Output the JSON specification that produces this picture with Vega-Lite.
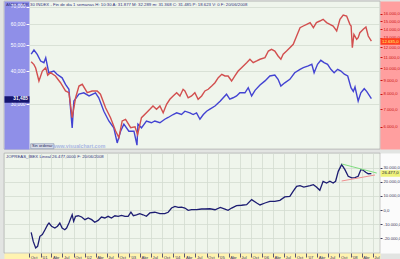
{
  "$schema": "https://vega.github.io/schema/vega-lite/v6.json",
  "padding": 0,
  "background": "#e2e4e2",
  "spacing": 2,
  "config": {
    "locale": {"number": {"decimal": ",", "thousands": ".", "grouping": [3], "currency": ["", " €"], "minus": "-"}},
    "view": {"fill": "#eff5ec", "stroke": "#9c9c9c", "strokeWidth": 0.6},
    "axis": {"labelFont": "Liberation Sans", "labelFontSize": 5, "domainCap": "butt"},
    "title": {"font": "Liberation Sans", "fontSize": 4.3, "fontWeight": "normal", "color": "#30307a"},
    "text": {"font": "Liberation Sans"}
  },
  "datasets": {
    "blue": [
      {"d": "2000-10-16", "v": 46.3}, {"d": "2000-11-08", "v": 48.0}, {"d": "2000-12-05", "v": 46.2}, {"d": "2001-01-02", "v": 43.6},
      {"d": "2001-01-29", "v": 43.0}, {"d": "2001-02-13", "v": 44.9}, {"d": "2001-03-10", "v": 39.4}, {"d": "2001-04-21", "v": 40.0},
      {"d": "2001-05-17", "v": 38.9}, {"d": "2001-06-28", "v": 37.7}, {"d": "2001-07-26", "v": 35.6}, {"d": "2001-08-23", "v": 34.1},
      {"d": "2001-09-19", "v": 24.4}, {"d": "2001-10-03", "v": 30.8}, {"d": "2001-11-14", "v": 32.7}, {"d": "2001-12-24", "v": 33.1},
      {"d": "2002-02-05", "v": 32.2}, {"d": "2002-03-30", "v": 33.1}, {"d": "2002-04-26", "v": 31.7}, {"d": "2002-06-07", "v": 28.2},
      {"d": "2002-07-18", "v": 25.9}, {"d": "2002-08-28", "v": 24.4}, {"d": "2002-09-25", "v": 21.4}, {"d": "2002-10-23", "v": 23.7},
      {"d": "2002-11-19", "v": 25.2}, {"d": "2002-12-30", "v": 23.7}, {"d": "2003-02-10", "v": 23.7}, {"d": "2003-03-07", "v": 21.0},
      {"d": "2003-03-15", "v": 25.2}, {"d": "2003-04-13", "v": 24.4}, {"d": "2003-05-24", "v": 25.9}, {"d": "2003-07-04", "v": 25.5},
      {"d": "2003-08-01", "v": 25.9}, {"d": "2003-09-12", "v": 25.5}, {"d": "2003-10-22", "v": 26.3}, {"d": "2003-11-19", "v": 26.7},
      {"d": "2003-12-30", "v": 27.4}, {"d": "2004-01-28", "v": 27.8}, {"d": "2004-03-08", "v": 27.4}, {"d": "2004-04-05", "v": 28.2},
      {"d": "2004-05-16", "v": 27.8}, {"d": "2004-06-12", "v": 27.4}, {"d": "2004-07-10", "v": 27.8}, {"d": "2004-08-07", "v": 26.3},
      {"d": "2004-09-04", "v": 27.4}, {"d": "2004-10-01", "v": 28.2}, {"d": "2004-10-28", "v": 28.7}, {"d": "2004-12-09", "v": 29.5},
      {"d": "2005-01-22", "v": 30.8}, {"d": "2005-02-15", "v": 31.7}, {"d": "2005-03-14", "v": 32.7}, {"d": "2005-04-10", "v": 31.3},
      {"d": "2005-05-07", "v": 31.7}, {"d": "2005-06-05", "v": 32.2}, {"d": "2005-07-02", "v": 33.1}, {"d": "2005-08-13", "v": 33.1},
      {"d": "2005-09-09", "v": 34.6}, {"d": "2005-10-07", "v": 32.2}, {"d": "2005-11-04", "v": 33.8}, {"d": "2005-12-15", "v": 35.4},
      {"d": "2006-01-25", "v": 36.7}, {"d": "2006-03-06", "v": 38.3}, {"d": "2006-04-16", "v": 38.6}, {"d": "2006-05-13", "v": 37.2},
      {"d": "2006-06-05", "v": 35.1}, {"d": "2006-07-07", "v": 36.1}, {"d": "2006-08-18", "v": 37.2}, {"d": "2006-09-27", "v": 39.4},
      {"d": "2006-11-10", "v": 40.6}, {"d": "2006-12-07", "v": 41.2}, {"d": "2007-01-17", "v": 41.8}, {"d": "2007-02-15", "v": 42.4},
      {"d": "2007-03-06", "v": 39.4}, {"d": "2007-04-03", "v": 42.4}, {"d": "2007-04-30", "v": 43.9}, {"d": "2007-05-27", "v": 43.0},
      {"d": "2007-06-25", "v": 42.4}, {"d": "2007-07-22", "v": 40.6}, {"d": "2007-08-18", "v": 39.4}, {"d": "2007-09-16", "v": 40.6},
      {"d": "2007-10-13", "v": 40.0}, {"d": "2007-11-10", "v": 38.9}, {"d": "2007-12-08", "v": 38.3}, {"d": "2008-01-04", "v": 34.6},
      {"d": "2008-01-23", "v": 33.5}, {"d": "2008-02-06", "v": 34.8}, {"d": "2008-03-03", "v": 30.8}, {"d": "2008-03-25", "v": 33.1},
      {"d": "2008-04-22", "v": 34.3}, {"d": "2008-05-12", "v": 33.5}, {"d": "2008-06-20", "v": 31.485}
    ],
    "red": [
      {"d": "2000-10-16", "v": 10550}, {"d": "2000-11-08", "v": 10300}, {"d": "2000-11-22", "v": 10000}, {"d": "2000-12-19", "v": 8930},
      {"d": "2001-01-16", "v": 9740}, {"d": "2001-02-13", "v": 10030}, {"d": "2001-03-01", "v": 9400}, {"d": "2001-03-24", "v": 9600},
      {"d": "2001-05-04", "v": 9330}, {"d": "2001-06-15", "v": 8800}, {"d": "2001-07-26", "v": 8190}, {"d": "2001-08-23", "v": 8070},
      {"d": "2001-09-19", "v": 6490}, {"d": "2001-10-17", "v": 7720}, {"d": "2001-11-14", "v": 8550}, {"d": "2001-12-11", "v": 8680},
      {"d": "2002-01-21", "v": 8070}, {"d": "2002-03-02", "v": 8190}, {"d": "2002-04-13", "v": 8190}, {"d": "2002-05-10", "v": 7960},
      {"d": "2002-06-21", "v": 7080}, {"d": "2002-08-01", "v": 6490}, {"d": "2002-09-12", "v": 5780}, {"d": "2002-10-09", "v": 5460},
      {"d": "2002-11-05", "v": 6310}, {"d": "2002-12-03", "v": 6400}, {"d": "2003-01-14", "v": 5950}, {"d": "2003-02-19", "v": 6000},
      {"d": "2003-03-12", "v": 5600}, {"d": "2003-04-13", "v": 6490}, {"d": "2003-05-24", "v": 6780}, {"d": "2003-06-21", "v": 6980},
      {"d": "2003-07-17", "v": 7190}, {"d": "2003-08-15", "v": 6980}, {"d": "2003-09-12", "v": 7190}, {"d": "2003-10-09", "v": 6780},
      {"d": "2003-11-06", "v": 7290}, {"d": "2003-12-03", "v": 7620}, {"d": "2003-12-30", "v": 7840}, {"d": "2004-01-28", "v": 8070},
      {"d": "2004-02-24", "v": 7840}, {"d": "2004-03-21", "v": 8310}, {"d": "2004-04-05", "v": 8190}, {"d": "2004-05-02", "v": 7720},
      {"d": "2004-05-30", "v": 7840}, {"d": "2004-06-26", "v": 8070}, {"d": "2004-07-23", "v": 7620}, {"d": "2004-08-21", "v": 7840},
      {"d": "2004-09-17", "v": 8190}, {"d": "2004-10-14", "v": 8310}, {"d": "2004-11-12", "v": 8550}, {"d": "2004-12-09", "v": 8800},
      {"d": "2005-01-05", "v": 9190}, {"d": "2005-02-03", "v": 9470}, {"d": "2005-03-01", "v": 9330}, {"d": "2005-03-27", "v": 9330},
      {"d": "2005-04-25", "v": 8930}, {"d": "2005-05-22", "v": 9330}, {"d": "2005-06-18", "v": 9740}, {"d": "2005-07-16", "v": 10030},
      {"d": "2005-08-27", "v": 10470}, {"d": "2005-09-23", "v": 10790}, {"d": "2005-10-20", "v": 10470}, {"d": "2005-11-18", "v": 10630},
      {"d": "2005-12-15", "v": 10790}, {"d": "2006-01-25", "v": 10940}, {"d": "2006-02-22", "v": 11590}, {"d": "2006-03-20", "v": 11770},
      {"d": "2006-04-16", "v": 11590}, {"d": "2006-05-13", "v": 11100}, {"d": "2006-06-05", "v": 10790}, {"d": "2006-06-24", "v": 11270},
      {"d": "2006-07-22", "v": 11590}, {"d": "2006-08-18", "v": 11930}, {"d": "2006-09-15", "v": 12290}, {"d": "2006-10-13", "v": 13210},
      {"d": "2006-11-10", "v": 14200}, {"d": "2006-12-07", "v": 14410}, {"d": "2007-01-04", "v": 14620}, {"d": "2007-02-01", "v": 14840},
      {"d": "2007-02-28", "v": 14200}, {"d": "2007-03-25", "v": 14840}, {"d": "2007-04-22", "v": 15050}, {"d": "2007-05-19", "v": 15270},
      {"d": "2007-06-17", "v": 14840}, {"d": "2007-07-14", "v": 14620}, {"d": "2007-08-10", "v": 14410}, {"d": "2007-09-08", "v": 13800},
      {"d": "2007-10-05", "v": 15270}, {"d": "2007-11-01", "v": 15850}, {"d": "2007-11-29", "v": 15720}, {"d": "2007-12-26", "v": 14620},
      {"d": "2008-01-05", "v": 14400}, {"d": "2008-01-15", "v": 11930}, {"d": "2008-01-28", "v": 13400}, {"d": "2008-02-20", "v": 12840},
      {"d": "2008-03-03", "v": 13010}, {"d": "2008-03-17", "v": 13590}, {"d": "2008-04-14", "v": 14000}, {"d": "2008-05-06", "v": 14280},
      {"d": "2008-05-25", "v": 13210}, {"d": "2008-06-20", "v": 12635}
    ],
    "spread": [
      {"d": "2000-10-16", "v": -15900}, {"d": "2000-11-02", "v": -22400}, {"d": "2000-11-22", "v": -27100}, {"d": "2000-12-08", "v": -25900},
      {"d": "2000-12-27", "v": -18800}, {"d": "2001-01-16", "v": -17600}, {"d": "2001-02-07", "v": -14100}, {"d": "2001-03-01", "v": -10500},
      {"d": "2001-03-12", "v": -9300}, {"d": "2001-04-02", "v": -11600}, {"d": "2001-04-29", "v": -12900}, {"d": "2001-05-21", "v": -11600},
      {"d": "2001-06-09", "v": -9300}, {"d": "2001-06-28", "v": -12900}, {"d": "2001-07-20", "v": -14100}, {"d": "2001-08-04", "v": -12900},
      {"d": "2001-08-23", "v": -9300}, {"d": "2001-09-19", "v": -3400}, {"d": "2001-10-01", "v": -8100}, {"d": "2001-10-17", "v": -4500},
      {"d": "2001-11-08", "v": -4100}, {"d": "2001-12-06", "v": -5000}, {"d": "2002-01-02", "v": -6900}, {"d": "2002-01-29", "v": -5700},
      {"d": "2002-02-27", "v": -6900}, {"d": "2002-03-24", "v": -8800}, {"d": "2002-04-21", "v": -7400}, {"d": "2002-05-18", "v": -5000},
      {"d": "2002-06-15", "v": -5700}, {"d": "2002-07-12", "v": -4500}, {"d": "2002-08-09", "v": -5700}, {"d": "2002-09-06", "v": -4100},
      {"d": "2002-10-03", "v": -4500}, {"d": "2002-10-31", "v": -3800}, {"d": "2002-11-28", "v": -4500}, {"d": "2002-12-24", "v": -4500},
      {"d": "2003-01-16", "v": -1600}, {"d": "2003-02-05", "v": -4100}, {"d": "2003-03-03", "v": -3400}, {"d": "2003-03-30", "v": -2600},
      {"d": "2003-04-26", "v": -3400}, {"d": "2003-05-24", "v": -4500}, {"d": "2003-06-21", "v": -2100}, {"d": "2003-08-01", "v": -1600},
      {"d": "2003-09-12", "v": -2600}, {"d": "2003-10-22", "v": -2600}, {"d": "2003-11-19", "v": -1600}, {"d": "2003-12-17", "v": 1400},
      {"d": "2004-01-14", "v": 2600}, {"d": "2004-02-10", "v": 1900}, {"d": "2004-03-08", "v": 2100}, {"d": "2004-04-05", "v": 1400},
      {"d": "2004-05-02", "v": -200}, {"d": "2004-05-30", "v": 200}, {"d": "2004-07-10", "v": 200}, {"d": "2004-08-21", "v": 700},
      {"d": "2004-09-17", "v": 700}, {"d": "2004-10-28", "v": 900}, {"d": "2004-12-09", "v": 200}, {"d": "2005-01-22", "v": 1900},
      {"d": "2005-03-01", "v": 700}, {"d": "2005-03-27", "v": -200}, {"d": "2005-04-25", "v": 1400}, {"d": "2005-06-05", "v": 3100},
      {"d": "2005-07-16", "v": 3400}, {"d": "2005-08-27", "v": 3800}, {"d": "2005-10-07", "v": 7400}, {"d": "2005-11-18", "v": 5000},
      {"d": "2005-12-15", "v": 3600}, {"d": "2006-01-25", "v": 5000}, {"d": "2006-03-06", "v": 6200}, {"d": "2006-04-16", "v": 6200},
      {"d": "2006-05-28", "v": 6900}, {"d": "2006-07-07", "v": 9300}, {"d": "2006-08-18", "v": 9800}, {"d": "2006-09-15", "v": 13400},
      {"d": "2006-10-13", "v": 16900}, {"d": "2006-11-10", "v": 17400}, {"d": "2006-12-11", "v": 16400}, {"d": "2007-02-01", "v": 17400},
      {"d": "2007-02-28", "v": 18100}, {"d": "2007-03-25", "v": 16400}, {"d": "2007-04-22", "v": 14100}, {"d": "2007-05-19", "v": 20500},
      {"d": "2007-06-17", "v": 19300}, {"d": "2007-07-14", "v": 20500}, {"d": "2007-08-10", "v": 19300}, {"d": "2007-08-30", "v": 20500},
      {"d": "2007-09-21", "v": 27600}, {"d": "2007-10-19", "v": 32400}, {"d": "2007-11-15", "v": 28800}, {"d": "2007-12-12", "v": 24100},
      {"d": "2008-01-10", "v": 22900}, {"d": "2008-02-06", "v": 23100}, {"d": "2008-03-03", "v": 24100}, {"d": "2008-03-25", "v": 28800},
      {"d": "2008-04-14", "v": 28400}, {"d": "2008-05-04", "v": 26900}, {"d": "2008-05-25", "v": 25900}, {"d": "2008-06-20", "v": 26000}
    ],
    "trend": [
      {"g": "res", "d": "2007-10-19", "v": 32900}, {"g": "res", "d": "2008-08-03", "v": 26400},
      {"g": "sop", "d": "2007-10-19", "v": 20700}, {"g": "sop", "d": "2008-07-20", "v": 25000}
    ]
  },
  "vconcat": [
    {
      "width": 376,
      "height": 148,
      "title": {"text": "AMEX - AIR 30 INDEX - Fin de dia 1 semanas H: 10:30 A: 31.877 M: 32.289 m: 31.368 C: 31.485 P: 18.623 V: 0 F: 20/06/2008", "frame": "group", "anchor": "start", "offset": -6, "dx": 2},
      "resolve": {"scale": {"y": "independent"}, "axis": {"y": "independent"}},
      "layer": [
        {
          "data": {"name": "blue"},
          "mark": {"type": "line", "color": "#4343d2", "strokeWidth": 1.4},
          "encoding": {
            "x": {"field": "d", "type": "temporal",
              "scale": {"domain": [{"year": 2000, "month": 3, "date": 6}, {"year": 2008, "month": 8, "date": 30}], "nice": false},
              "axis": {"grid": true, "labels": false, "ticks": false, "domain": false, "title": null, "tickCount": {"interval": "month", "step": 3}, "gridColor": "#d3dcd0", "gridWidth": 0.8,
                "gridOpacity": {"condition": {"test": "datum.value < datetime(2000, 8, 20)", "value": 0}, "value": 1}}},
            "y": {"field": "v", "type": "quantitative",
              "scale": {"type": "log", "domain": [20.3, 73.53], "nice": false},
              "axis": {"orient": "left", "values": [30, 40, 50, 60, 70], "offset": -12.5, "domainWidth": 25, "domainColor": "#8f8fe8", "ticks": false, "labels": false, "grid": true, "gridColor": "#d3dcd0", "gridWidth": 0.8, "title": null}}
          }
        },
        {
          "data": {"name": "blue"},
          "mark": {"type": "line", "opacity": 0},
          "encoding": {
            "x": {"field": "d", "type": "temporal", "scale": {"domain": [{"year": 2000, "month": 3, "date": 6}, {"year": 2008, "month": 8, "date": 30}], "nice": false}, "axis": null},
            "y": {"field": "v", "type": "quantitative",
              "scale": {"type": "log", "domain": [20.3, 73.53], "nice": false},
              "axis": {"orient": "left", "values": [30, 40, 50, 60, 70], "format": ",.3f", "offset": -25, "domain": false, "grid": false, "ticks": true, "tickSize": 3, "tickColor": "#ffffff", "labelPadding": 1, "labelFontSize": 4.8, "labelColor": "#ffffff", "title": null, "zindex": 1, "labelOverlap": false}}
          }
        },
        {
          "data": {"values": [{}]},
          "mark": {"type": "rect", "fill": "#d9dee9", "stroke": "#7d8bab", "strokeWidth": 0.6},
          "encoding": {
            "x": {"datum": {"year": 2000, "month": 10, "date": 12}, "type": "temporal", "scale": {"domain": [{"year": 2000, "month": 3, "date": 6}, {"year": 2008, "month": 8, "date": 30}], "nice": false}, "axis": null},
            "x2": {"datum": {"year": 2001, "month": 4, "date": 22}},
            "y": {"datum": 20.35, "type": "quantitative", "scale": {"type": "log", "domain": [20.3, 73.53], "nice": false}, "axis": null},
            "y2": {"datum": 21.25}
          }
        },
        {
          "data": {"values": [{}]},
          "mark": {"type": "text", "text": "Sin ordenar", "fontSize": 4, "color": "#222255", "align": "center", "baseline": "middle"},
          "encoding": {
            "x": {"datum": {"year": 2001, "month": 1, "date": 16}, "type": "temporal", "scale": {"domain": [{"year": 2000, "month": 3, "date": 6}, {"year": 2008, "month": 8, "date": 30}], "nice": false}, "axis": null},
            "y": {"datum": 20.8, "type": "quantitative", "scale": {"type": "log", "domain": [20.3, 73.53], "nice": false}, "axis": null}
          }
        },
        {
          "data": {"values": [{}]},
          "mark": {"type": "text", "text": "www.visualchart.com", "fontSize": 5.2, "fontWeight": "bold", "color": "#a9b6e2", "align": "center", "baseline": "middle"},
          "encoding": {
            "x": {"datum": {"year": 2001, "month": 11, "date": 13}, "type": "temporal", "scale": {"domain": [{"year": 2000, "month": 3, "date": 6}, {"year": 2008, "month": 8, "date": 30}], "nice": false}, "axis": null},
            "y": {"datum": 20.75, "type": "quantitative", "scale": {"type": "log", "domain": [20.3, 73.53], "nice": false}, "axis": null}
          }
        },
        {
          "data": {"name": "red"},
          "mark": {"type": "line", "color": "#d24f4f", "strokeWidth": 1.4},
          "encoding": {
            "x": {"field": "d", "type": "temporal", "scale": {"domain": [{"year": 2000, "month": 3, "date": 6}, {"year": 2008, "month": 8, "date": 30}], "nice": false}, "axis": null},
            "y": {"field": "v", "type": "quantitative",
              "scale": {"type": "log", "domain": [4944, 17910], "nice": false},
              "axis": {"orient": "right", "values": [6000, 16000], "offset": 12, "domainWidth": 24, "domainColor": "#ff9f9f", "ticks": false, "labels": false, "grid": false, "title": null}}
          }
        },
        {
          "data": {"name": "red"},
          "mark": {"type": "line", "opacity": 0},
          "encoding": {
            "x": {"field": "d", "type": "temporal", "scale": {"domain": [{"year": 2000, "month": 3, "date": 6}, {"year": 2008, "month": 8, "date": 30}], "nice": false}, "axis": null},
            "y": {"field": "v", "type": "quantitative",
              "scale": {"type": "log", "domain": [4944, 17910], "nice": false},
              "axis": {"orient": "right", "values": [6000, 7000, 8000, 9000, 10000, 11000, 12000, 13000, 14000, 15000, 16000], "format": ",.1f", "offset": 0, "domain": false, "grid": false, "ticks": true, "tickSize": 2, "tickColor": "#cc1010", "labelPadding": 1, "labelFontSize": 4.2, "labelColor": "#cc1010", "title": null, "zindex": 1, "labelOverlap": false}}
          }
        },
        {
          "data": {"name": "blue"},
          "mark": {"type": "line", "opacity": 0},
          "encoding": {
            "x": {"field": "d", "type": "temporal", "scale": {"domain": [{"year": 2000, "month": 3, "date": 6}, {"year": 2008, "month": 8, "date": 30}], "nice": false}, "axis": null},
            "y": {"field": "v", "type": "quantitative",
              "scale": {"type": "log", "domain": [20.3, 73.53], "nice": false},
              "axis": {"orient": "left", "values": [31.485], "format": ",.3f", "offset": -25, "domain": false, "grid": false, "ticks": true, "tickSize": 25, "tickWidth": 6.5, "tickColor": "#15156f", "labelPadding": -23.5, "labelFontSize": 4.8, "labelColor": "#ffffff", "labelFontWeight": "bold", "title": null, "zindex": 2, "labelOverlap": false}}
          }
        },
        {
          "data": {"name": "red"},
          "mark": {"type": "line", "opacity": 0},
          "encoding": {
            "x": {"field": "d", "type": "temporal", "scale": {"domain": [{"year": 2000, "month": 3, "date": 6}, {"year": 2008, "month": 8, "date": 30}], "nice": false}, "axis": null},
            "y": {"field": "v", "type": "quantitative",
              "scale": {"type": "log", "domain": [4944, 17910], "nice": false},
              "axis": {"orient": "right", "values": [12635], "format": ",.1f", "domain": false, "grid": false, "ticks": true, "tickSize": 24, "tickWidth": 6.5, "tickColor": "#ff4020", "labelPadding": -22.5, "labelFontSize": 4.3, "labelColor": "#ffff70", "title": null, "zindex": 2, "labelOverlap": false}}
          }
        }
      ]
    },
    {
      "width": 376,
      "height": 100,
      "title": {"text": "JOPREAS_IBEX Lineal 26.477,0000 F: 20/06/2008", "frame": "group", "anchor": "start", "offset": -6, "dx": 2},
      "resolve": {"scale": {"x": "independent", "y": "independent"}, "axis": {"x": "independent", "y": "independent"}},
      "layer": [
        {
          "data": {"name": "spread"},
          "mark": {"type": "line", "color": "#1d1d72", "strokeWidth": 1.3},
          "encoding": {
            "x": {"field": "d", "type": "temporal",
              "scale": {"domain": [{"year": 2000, "month": 3, "date": 6}, {"year": 2008, "month": 8, "date": 30}], "nice": false},
              "axis": {"orient": "bottom", "grid": true, "gridColor": "#d3dcd0", "gridWidth": 0.8,
                "gridOpacity": {"condition": {"test": "datum.value < datetime(2000, 8, 20)", "value": 0}, "value": 1},
                "tickCount": {"interval": "month", "step": 3},
                "labels": false, "ticks": false, "domainWidth": 9, "domainColor": "#fff3b0", "offset": 4.5, "title": null}},
            "y": {"field": "v", "type": "quantitative",
              "scale": {"domain": [-30700, 40700], "nice": false, "zero": false},
              "axis": {"orient": "right", "values": [-20000, -10000, 0, 10000, 20000, 30000], "offset": 12, "domainWidth": 24, "domainColor": "#fbfbfb", "ticks": false, "labels": false, "grid": true, "gridColor": "#d3dcd0", "gridWidth": 0.8, "title": null}}
          }
        },
        {
          "data": {"name": "spread"},
          "mark": {"type": "line", "opacity": 0},
          "encoding": {
            "x": {"field": "d", "type": "temporal",
              "scale": {"domain": [{"year": 2000, "month": 3, "date": 6}, {"year": 2008, "month": 8, "date": 30}], "nice": false},
              "axis": {"orient": "bottom", "grid": false, "domain": false,
                "tickCount": {"interval": "month", "step": 3},
                "labelExpr": "datum.value < datetime(2000, 8, 20) ? '' : month(datum.value) == 0 ? \"'\" + timeFormat(datum.value, '%y') : month(datum.value) == 3 ? 'Abr' : month(datum.value) == 6 ? 'Jul' : 'Oct'",
                "ticks": true, "tickSize": 4, "tickColor": "#2f2f66", "tickWidth": 0.8,
                "tickOpacity": {"condition": {"test": "datum.value < datetime(2000, 8, 20)", "value": 0}, "value": 1},
                "labelPadding": 0.5, "labelFontSize": 4.2, "labelBaseline": "middle", "labelAlign": "left", "labelOffset": 1, "labelColor": "#2f2f66", "labelFlush": false, "labelOverlap": false, "title": null, "zindex": 1}},
            "y": {"field": "v", "type": "quantitative", "scale": {"domain": [-30700, 40700], "nice": false, "zero": false}, "axis": null}
          }
        },
        {
          "data": {"name": "spread"},
          "mark": {"type": "line", "opacity": 0},
          "encoding": {
            "x": {"field": "d", "type": "temporal", "scale": {"domain": [{"year": 2000, "month": 3, "date": 6}, {"year": 2008, "month": 8, "date": 30}], "nice": false}, "axis": null},
            "y": {"field": "v", "type": "quantitative",
              "scale": {"domain": [-30700, 40700], "nice": false, "zero": false},
              "axis": {"orient": "right", "values": [-20000, -10000, 0, 10000, 20000, 30000], "format": ",.1f", "offset": 0, "domain": false, "grid": false, "ticks": true, "tickSize": 2, "tickColor": "#3a3a5a", "labelPadding": 1, "labelFontSize": 4.2, "labelColor": "#3a3a5a", "title": null, "zindex": 1, "labelOverlap": false}}
          }
        },
        {
          "data": {"name": "trend"},
          "mark": {"type": "line", "strokeWidth": 1},
          "encoding": {
            "x": {"field": "d", "type": "temporal", "scale": {"domain": [{"year": 2000, "month": 3, "date": 6}, {"year": 2008, "month": 8, "date": 30}], "nice": false}, "axis": null},
            "y": {"field": "v", "type": "quantitative", "scale": {"domain": [-30700, 40700], "nice": false, "zero": false}, "axis": null},
            "color": {"field": "g", "type": "nominal", "scale": {"domain": ["res", "sop"], "range": ["#80dd80", "#f09090"]}, "legend": null}
          }
        },
        {
          "data": {"name": "spread"},
          "mark": {"type": "line", "opacity": 0},
          "encoding": {
            "x": {"field": "d", "type": "temporal", "scale": {"domain": [{"year": 2000, "month": 3, "date": 6}, {"year": 2008, "month": 8, "date": 30}], "nice": false}, "axis": null},
            "y": {"field": "v", "type": "quantitative",
              "scale": {"domain": [-30700, 40700], "nice": false, "zero": false},
              "axis": {"orient": "right", "values": [26477], "format": ",.1f", "domain": false, "grid": false, "ticks": true, "tickSize": 24, "tickWidth": 6.5, "tickColor": "#eef27a", "labelPadding": -22.5, "labelFontSize": 4.3, "labelColor": "#202040", "title": null, "zindex": 2, "labelOverlap": false}}
          }
        }
      ]
    }
  ]
}
